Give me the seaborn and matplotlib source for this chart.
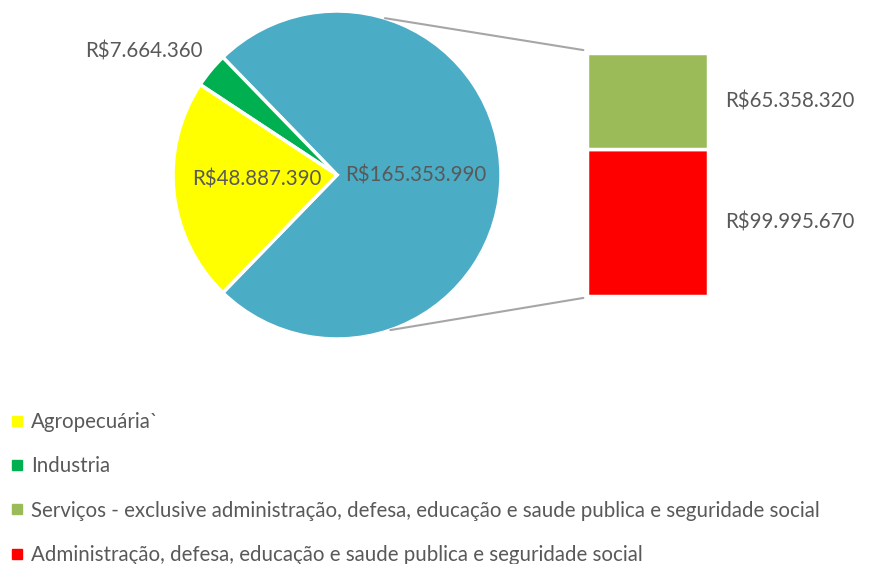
import numpy as np
import matplotlib
matplotlib.use("Agg")
import matplotlib.pyplot as plt
import seaborn as sns
from matplotlib.patches import ConnectionPatch
from matplotlib.lines import Line2D

# dados
pie_labels = ["Outros", "Industria", "Agropecuária`"]
pie_values = [165353990, 7664360, 48887390]
bar_labels = ["Administração, defesa, educação e saude publica e seguridade social",
              "Serviços - exclusive administração, defesa, educação e saude publica e seguridade social"]
bar_values = [99995670, 65358320]
legend_labels = ["Agropecuária`", "Industria",
                 "Serviços - exclusive administração, defesa, educação e saude publica e seguridade social",
                 "Administração, defesa, educação e saude publica e seguridade social"]

pie_colors = ["#4BACC6", "#00B050", "#FFFF00"]
bar_colors = ["#FF0000", "#9BBB59"]
legend_colors = ["#FFFF00", "#00B050", "#9BBB59", "#FF0000"]
txt = "#595959"
fs = 14.8

sns.set_theme(style="white")
plt.rcParams['font.family'] = ['Lato', 'DejaVu Sans']


def brl(v):
    return "R$" + f"{v:,}".replace(",", ".")


fig = plt.figure(figsize=(8.88, 5.64), dpi=100)
W, H = 888, 564

# pizza
cx, cy, r = 337, 175, 164
ax_pie = fig.add_axes([(cx - r) / W, (H - cy - r) / H, 2 * r / W, 2 * r / H])
share = pie_values[0] / sum(pie_values)
start = -share * 360 / 2
ax_pie.pie(pie_values, colors=pie_colors, startangle=start, radius=1,
           wedgeprops=dict(edgecolor="white", linewidth=2.5))
ax_pie.set_xlim(-1, 1)
ax_pie.set_ylim(-1, 1)
ax_pie.axis("off")

ax_pie.text(0.05, 0.0, brl(pie_values[0]), ha="left", va="center", fontsize=fs, color=txt)
ax_pie.text(-0.49, -0.03, brl(pie_values[2]), ha="center", va="center", fontsize=fs, color=txt)
ax_pie.text(-1.18, 0.75, brl(pie_values[1]), ha="center", va="center", fontsize=fs, color=txt)

# barra empilhada
bx0, bx1, by0, by1 = 587, 708, 53, 296
ax_bar = fig.add_axes([bx0 / W, (H - by1) / H, (bx1 - bx0) / W, (by1 - by0) / H])
bottom = 0
for v, c in zip(bar_values, bar_colors):
    ax_bar.bar(0.5, v, width=1, bottom=bottom, color=c, edgecolor="white", linewidth=2.5)
    ax_bar.text(1.14, bottom + v / 2, brl(v), ha="left", va="center", fontsize=fs, color=txt)
    bottom += v
ax_bar.set_xlim(0, 1)
ax_bar.set_ylim(0, sum(bar_values))
ax_bar.axis("off")

# linhas de conexão
for ang, yb in [(73, sum(bar_values) * 1.012), (-71, -sum(bar_values) * 0.008)]:
    a = np.deg2rad(ang)
    con = ConnectionPatch(xyA=(np.cos(a), np.sin(a)), coordsA=ax_pie.transData,
                          xyB=(-0.03, yb), coordsB=ax_bar.transData,
                          color="#A6A6A6", linewidth=1.5)
    fig.add_artist(con)

# legenda
handles = [Line2D([], [], marker="s", linestyle="none", markersize=6.5,
                  markerfacecolor=c, markeredgecolor=c) for c in legend_colors]
fig.legend(handles, legend_labels, loc="upper left", bbox_to_anchor=(0.008, 1 - 408 / H),
           frameon=False, fontsize=fs, labelcolor=txt, labelspacing=1.18,
           handlelength=0.6, handletextpad=0.35, borderaxespad=0, borderpad=0.2)

fig.savefig("out.png", dpi=100)
